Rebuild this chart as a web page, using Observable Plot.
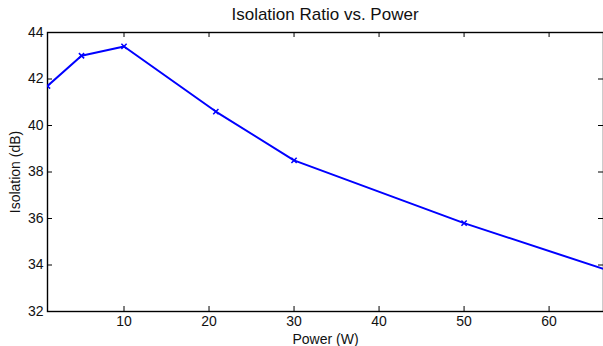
<!DOCTYPE html>
<html>
<head>
<meta charset="utf-8">
<script src="https://cdn.jsdelivr.net/npm/d3@7"></script>
<script src="https://cdn.jsdelivr.net/npm/@observablehq/plot@0.6"></script>
<style>
  html, body { margin: 0; padding: 0; background: #fff; }
  #wrap { width: 603px; height: 346px; overflow: hidden; font-family: "Liberation Sans", Arial, sans-serif; }
  #title { height: 20px; line-height: 20px; font-size: 17px; text-align: center; padding-left: 47px; box-sizing: border-box; width: 603px; color: #111; }
  #title span { position: relative; top: 5px; }
</style>
</head>
<body>
<div id="wrap">
  <div id="title"><span>Isolation Ratio vs. Power</span></div>
  <div id="chart"></div>
</div>
<script>
const power = [1, 5, 10, 20.8, 30, 50, 70];
const isolation = [41.7, 43.0, 43.4, 40.6, 38.5, 35.8, 33.4];
const xTicks = [10, 20, 30, 40, 50, 60];
const yTicks = [32, 34, 36, 38, 40, 42, 44];
const xDomain = [1, 66.4];
const yDomain = [32, 44];

const data = power.map((p, i) => ({power: p, isolation: isolation[i]}));

const W = 603, H = 326, mT = 12, mB = 35, mL = 47, mR = 0;
const plotH = H - mT - mB, plotW = W - mL - mR, tick = 5;

const chart = Plot.plot({
  width: W, height: H,
  marginTop: mT, marginBottom: mB, marginLeft: mL, marginRight: mR,
  style: {fontFamily: "Liberation Sans, Arial, sans-serif", fontSize: "14px", color: "#111", background: "transparent"},
  x: {domain: xDomain},
  y: {domain: yDomain},
  marks: [
    Plot.frame({stroke: "#000", strokeWidth: 1.4}),
    Plot.ruleX(xTicks, {x: d => d, insetTop: plotH - tick, stroke: "#000"}),
    Plot.ruleX(xTicks, {x: d => d, insetBottom: plotH - tick, stroke: "#000"}),
    Plot.ruleY(yTicks, {y: d => d, insetRight: plotW - tick, stroke: "#000"}),
    Plot.ruleY(yTicks, {y: d => d, insetLeft: plotW - tick, stroke: "#000"}),
    Plot.axisX({ticks: xTicks, tickSize: 0, tickPadding: 5, label: "Power (W)", labelAnchor: "center", labelArrow: "none", labelOffset: 32}),
    Plot.axisY({ticks: yTicks, tickSize: 0, tickPadding: 4, label: "Isolation (dB)", labelAnchor: "center", labelArrow: "none", labelOffset: 37}),
    Plot.line(data, {x: "power", y: "isolation", stroke: "#0000ff", strokeWidth: 2, clip: true}),
    Plot.dot(data, {x: "power", y: "isolation", symbol: "times", r: 2.5, stroke: "#0000ff", strokeWidth: 1.5, clip: true})
  ]
});
document.getElementById("chart").appendChild(chart);
</script>
</body>
</html>
